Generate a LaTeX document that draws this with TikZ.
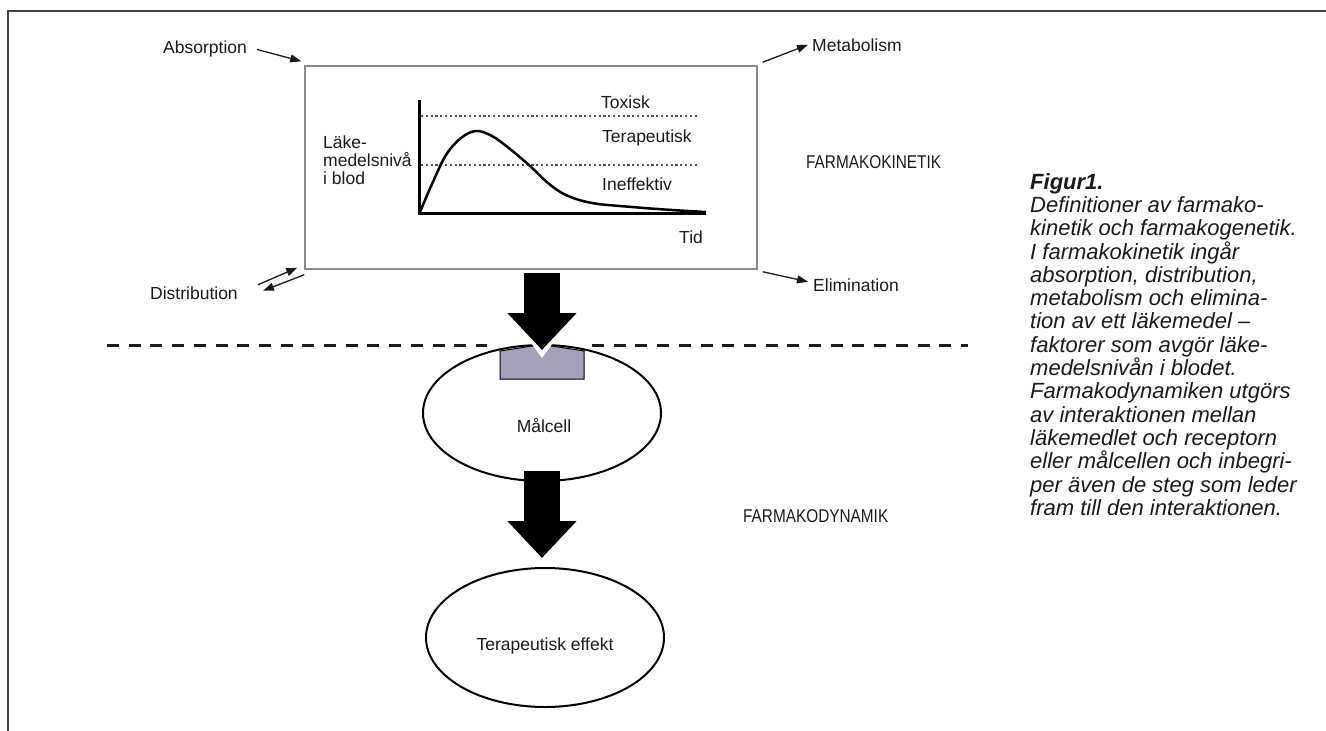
\documentclass[tikz,border=0pt]{standalone}
\usepackage{fontspec}
\setmainfont{Liberation Sans}
\newfontfamily\capsf[FakeStretch=0.83]{Liberation Sans}
\usetikzlibrary{arrows.meta,shapes.geometric}
\definecolor{ink}{HTML}{1A1A1A}
\definecolor{framec}{HTML}{444444}
\definecolor{boxgray}{HTML}{8A8A8A}
\definecolor{recc}{HTML}{A4A0B8}
\definecolor{dotc}{HTML}{505050}
\begin{document}
\begin{tikzpicture}[x=1pt,y=-1pt,
  lab/.style={font=\fontsize{17.5}{18}\selectfont, text=ink, inner sep=0pt},
  caplab/.style={font=\fontsize{18.5}{19}\selectfont\capsf, text=ink, inner sep=0pt},
  thinarrow/.style={draw=ink, line width=1.3pt, -{Triangle[length=11pt 0,width=8pt 0]}},
  bigarrow/.style={draw=black, line width=36pt, -{Triangle[length=37pt 0,width=67pt 0]}},
  cell/.style={ellipse, draw=black, line width=2pt, fill=white, inner sep=0pt},
  dashline/.style={draw=ink, line width=3pt, dash pattern=on 12pt off 9.7pt},
  dotline/.style={draw=dotc, line width=2.6pt, dash pattern=on 2.2pt off 2.6pt},
  axis/.style={draw=black, line width=3pt, line join=miter}]
\useasboundingbox (0,0) rectangle (1326,731);
% outer frame
\draw[framec, line width=2pt] (8,731) -- (8,11) -- (1326,11);

% kinetics box
\node[draw=boxgray, line width=1.5pt, minimum width=452pt, minimum height=203pt, inner sep=0pt] (box) at (531,167.5) {};

% graph
\draw[dotline] (421,116) -- (698,116);
\draw[dotline] (421,165) -- (698,165);
\draw[axis] (419,100) -- (419,213) -- (706,213);
\draw[black, line width=2.5pt] plot[smooth, tension=0.6] coordinates {(420,212) (432,184) (446,155) (461,138) (476,131) (492,136) (510,149) (530,166) (548,183) (566,195) (592,203) (632,207) (672,210) (706,212)};
\node[lab, anchor=west] (tox) at (601,102) {Toxisk};
\node[lab, anchor=west] (ter) at (602,138) {Terapeutisk};
\node[lab, anchor=west] (ineff) at (602,184) {Ineffektiv};
\node[lab, anchor=west] (tid) at (679,237) {Tid};
\node[lab, anchor=north west, align=left] (lake) at (323,136) {Läke-\\medelsnivå\\i blod};

% ADME labels
\node[lab, anchor=base west] (abs) at (163,53) {Absorption};
\node[lab, anchor=base west] (met) at (812,51) {Metabolism};
\node[lab, anchor=base west] (elim) at (813,291) {Elimination};
\node[lab, anchor=base west] (dist) at (150,299) {Distribution};
\node[caplab, anchor=base west] (fk) at (806,168) {FARMAKOKINETIK};
\node[caplab, anchor=base west] (fd) at (743,522) {FARMAKODYNAMIK};

\draw[thinarrow] ([shift={(10,1)}]abs.east) -- ([shift={(-3,-4)}]box.north west);
\draw[thinarrow] ([shift={(5,-3)}]box.north east) -- ([shift={(-4,0)}]met.west);
\draw[thinarrow] ([shift={(5,2)}]box.south east) -- ([shift={(-5,-3)}]elim.west);
\draw[thinarrow] ([shift={(20,-8)}]dist.east) -- ([shift={(-7,-2)}]box.south west);
\draw[thinarrow] ([shift={(0,5)}]box.south west) -- ([shift={(25,-2)}]dist.east);

% membrane line
\coordinate (d1) at (107,345);
\coordinate (d2) at (487,345);
\coordinate (d3) at (592,345);
\coordinate (d4) at (968,345);
\draw[dashline] (d1) -- (d2);
\draw[dashline] (d3) -- (d4);

% cells
\node[cell, minimum width=238pt, minimum height=136pt] (mal) at (542,413) {};
\node[lab, anchor=base] (maltxt) at (544,432) {Målcell};
\node[cell, minimum width=238pt, minimum height=139pt] (eff) at (545,637.5) {};
\node[lab, anchor=base] (efftxt) at (545,650) {Terapeutisk effekt};

% receptor
\filldraw[fill=recc, draw=black, line width=1pt] (500,379) -- (500,351) -- (532,346) -- (552,346) -- (584,351) -- (584,379) -- cycle;
\fill[white] (531,343) -- (553,343) -- (542,358) -- cycle;

% block arrows
\coordinate (t2) at (542,558);
\draw[bigarrow] ([shift={(11,3)}]box.south) -- ([yshift=-6]mal.north);
\draw[bigarrow] ([yshift=11]mal.south) -- (t2);

% caption
\node[anchor=north west, align=left, inner sep=0pt, text=ink, font=\fontsize{22}{23.3}\selectfont\itshape] (cap) at (1030,173) {\textbf{Figur1.}\\
Definitioner av farmako-\\
kinetik och farmakogenetik.\\
I farmakokinetik ingår\\
absorption, distribution,\\
metabolism och elimina-\\
tion av ett läkemedel –\\
faktorer som avgör läke-\\
medelsnivån i blodet.\\
Farmakodynamiken utgörs\\
av interaktionen mellan\\
läkemedlet och receptorn\\
eller målcellen och inbegri-\\
per även de steg som leder\\
fram till den interaktionen.};
\end{tikzpicture}
\end{document}
